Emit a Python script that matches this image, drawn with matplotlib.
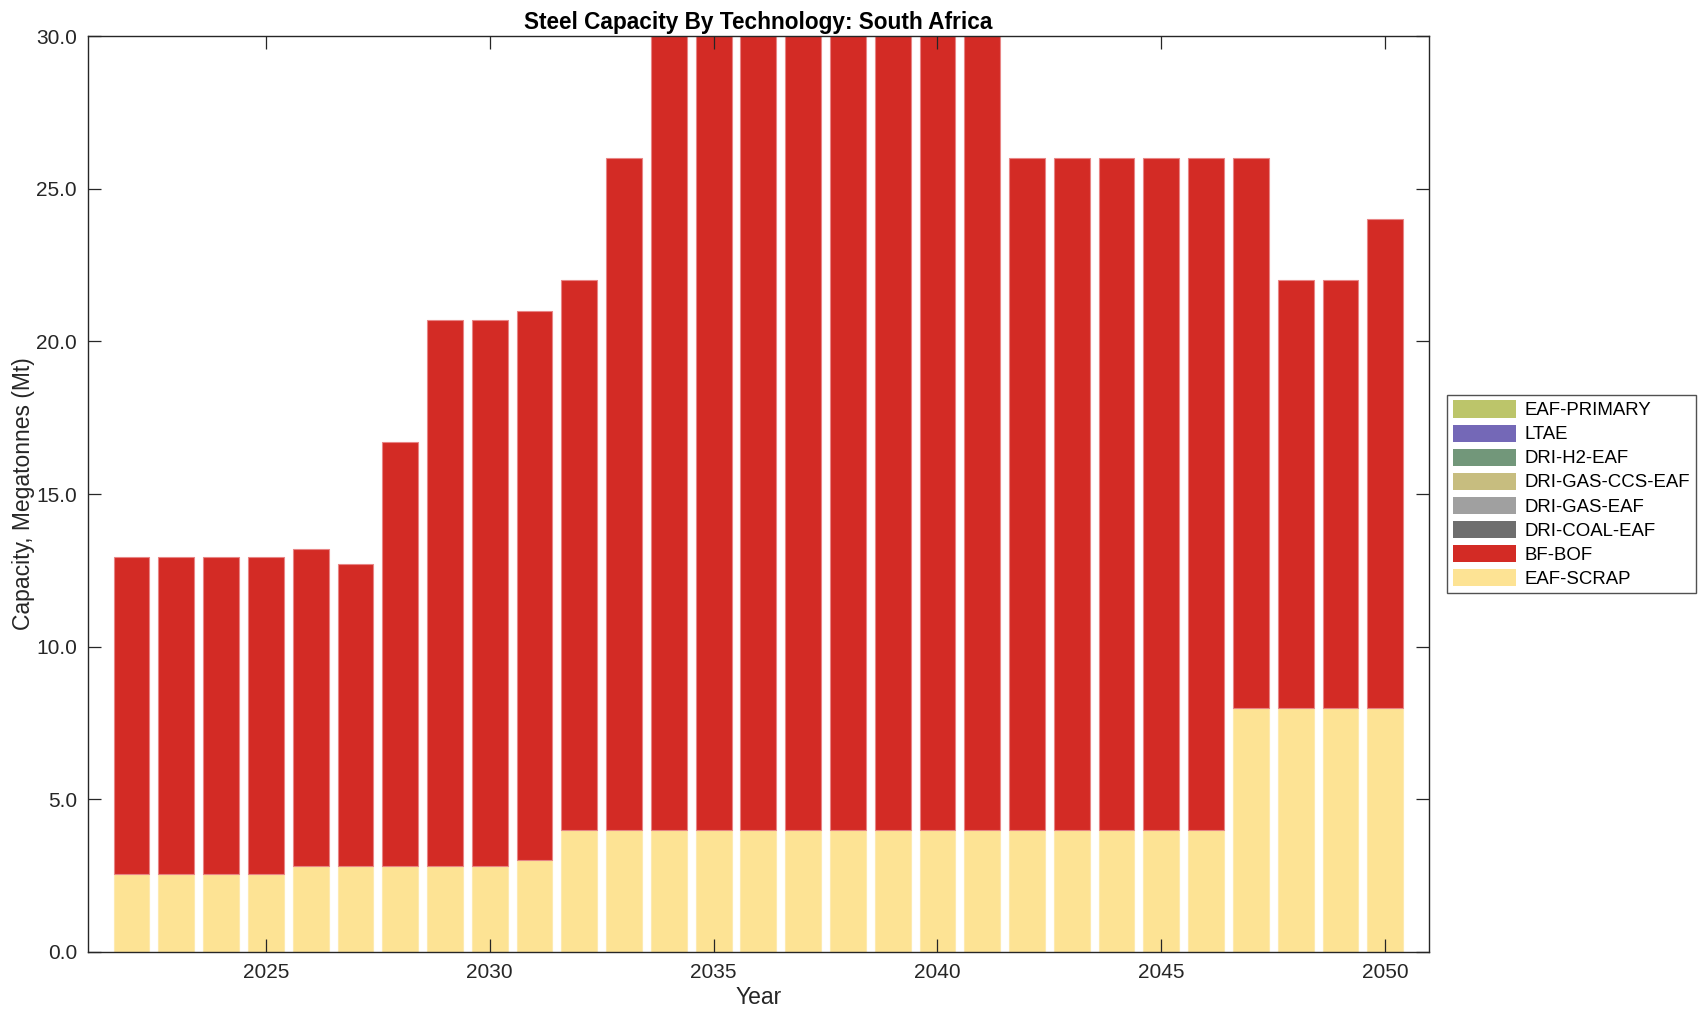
import numpy as np
from matplotlib import pyplot as plt
from matplotlib.ticker import FormatStrFormatter

plt.rcParams['font.family'] = ['Liberation Sans', 'DejaVu Sans']

# Dados (Mt)
anos = list(range(2022, 2051))
total = [12.95, 12.95, 12.95, 12.95, 13.2, 12.7, 16.7, 20.7, 20.7, 21.0,
         22, 26, 30, 30, 30, 30, 30, 30, 30, 30,
         26, 26, 26, 26, 26, 26, 22, 22, 24]
eaf_scrap = [2.55, 2.55, 2.55, 2.55, 2.8, 2.8, 2.8, 2.8, 2.8, 3.0,
             4, 4, 4, 4, 4, 4, 4, 4, 4, 4,
             4, 4, 4, 4, 4, 8, 8, 8, 8]
bf_bof = [round(t - s, 2) for t, s in zip(total, eaf_scrap)]
zeros = [0.0] * len(anos)

# ordem de empilhamento (de baixo para cima)
tecnologias = ["EAF-SCRAP", "BF-BOF", "DRI-COAL-EAF", "DRI-GAS-EAF",
               "DRI-GAS-CCS-EAF", "DRI-H2-EAF", "LTAE", "EAF-PRIMARY"]
valores = [eaf_scrap, bf_bof, zeros, zeros, zeros, zeros, zeros, zeros]
cores = ["#fde394", "#d32b25", "#6e6e6e", "#a0a0a0",
         "#c7bd7f", "#72977a", "#7468b7", "#bcc56a"]
bordas = ["#fdeab0", "#e88585", "#999999", "#c0c0c0",
          "#ddd5a8", "#a0bca6", "#a69ed3", "#d5dba0"]

fig = plt.figure(figsize=(17.08, 10.21), dpi=100)
ax = fig.add_axes([0.0516, 0.0676, 0.7851, 0.8971])

base = np.zeros(len(anos))
handles = []
for nome, vals, cor, borda in zip(tecnologias, valores, cores, bordas):
    # series vazias sem borda, senao aparece uma linha no topo das barras
    lw = 0.8 if max(vals) > 0 else 0.0
    b = ax.bar(anos, vals, width=0.8, bottom=base, color=cor,
               edgecolor=borda, linewidth=lw, label=nome)
    handles.append(b)
    base = base + np.array(vals)

ax.set_xlim(2021.03, 2050.98)
ax.set_ylim(0, 30)
ax.set_xticks([2025, 2030, 2035, 2040, 2045, 2050])
ax.set_yticks(np.arange(0, 31, 5))
ax.yaxis.set_major_formatter(FormatStrFormatter('%.1f'))

cinza = '#262626'
for s in ax.spines.values():
    s.set_color(cinza)
    s.set_linewidth(1.0)
ax.tick_params(direction='in', length=9.5, width=0.9, colors=cinza,
               labelsize=15, top=True, right=True, pad=8)

ax.set_title("Steel Capacity By Technology: South Africa",
             fontsize=16.3, fontweight='bold', pad=5)
ax.set_xlabel("Year", fontsize=16.5, color=cinza, labelpad=3)
ax.set_ylabel("Capacity, Megatonnes (Mt)", fontsize=16.5, color=cinza, labelpad=1)

leg = ax.legend(handles[::-1], tecnologias[::-1], loc='center left',
                bbox_to_anchor=(1.0134, 0.5), borderaxespad=0, fontsize=13.4,
                frameon=True, fancybox=False, edgecolor=cinza,
                handlelength=3.4, handleheight=1.05, labelspacing=0.27,
                borderpad=0.32, handletextpad=0.43)
leg.get_frame().set_linewidth(1.0)
for h in leg.legend_handles:
    h.set_linewidth(0)

fig.savefig("out.png", dpi=100)
